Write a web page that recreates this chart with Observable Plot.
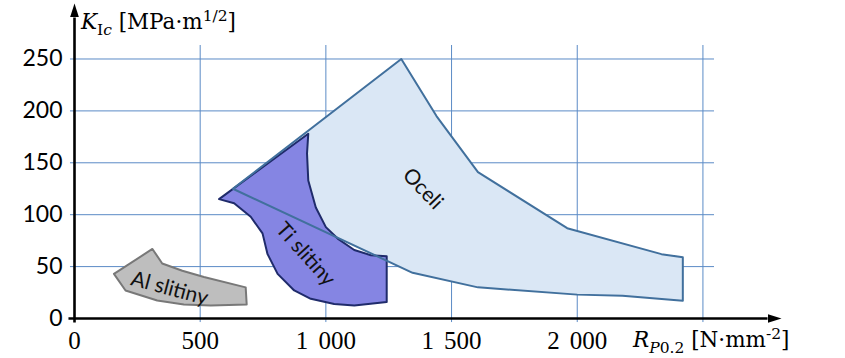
<!DOCTYPE html>
<html>
<head>
<meta charset="utf-8">
<script src="https://cdn.jsdelivr.net/npm/d3@7"></script>
<script src="https://cdn.jsdelivr.net/npm/@observablehq/plot@0.6"></script>
<style>
  html, body { margin: 0; padding: 0; background: #fff; }
  #chart { position: relative; width: 845px; height: 358px; }
</style>
</head>
<body>
<div id="chart"></div>
<script>
// Region outlines: strength R_p0.2 (x) vs fracture toughness K_Ic (y)
const oceliX = [630, 1300, 1440, 1605, 1960, 2335, 2420, 2420, 2180, 2000, 1605, 1345];
const oceliY = [125, 250, 195, 141, 87, 62, 59, 17, 22, 23, 30, 44];

const tiX = [575, 930, 925, 930, 960, 1000, 1047, 1113, 1179, 1242, 1242, 1113, 1033, 940, 874, 808, 768, 748, 701, 635];
const tiY = [115, 178, 159, 133, 107, 88, 77, 66, 61, 60, 16, 12.5, 14, 19, 27, 43, 62, 82, 98, 111];

const alX = [310, 349, 429, 515, 681, 685, 542, 435, 329, 203, 157];
const alY = [67, 53, 46, 40, 30, 13.5, 12.5, 13.5, 17.4, 27, 43];

const labelNames = ["Al slitiny", "Ti slitiny", "Oceli"];
const labelX = [378, 919, 1386];
const labelY = [29, 62, 125];
const labelAngle = [15, 48, 46];

const xTicks = [0, 500, 1000, 1500, 2000];
const xGrid = [500, 1000, 1500, 2000, 2500];
const yTicks = [0, 50, 100, 150, 200, 250];

const xDomain = [0, 2546];
const yDomain = [0, 263];

const toPts = (xs, ys) => xs.map((x, i) => ({x, y: ys[i]}));
const oceli = toPts(oceliX, oceliY);
const ti = toPts(tiX, tiY);
const al = toPts(alX, alY);
const labels = labelNames.map((t, i) => ({t, x: labelX[i], y: labelY[i], a: labelAngle[i]}));

const axisLines = [
  {x1: -24, y1: 0, x2: 2757, y2: 0},
  {x1: 0, y1: -3.9, x2: 0, y2: 290}
];

const gridColor = "#5b8bc6";
const fmt = d => d3.format(",")(d).replace(/,/g, "\u2009\u2009");

const svg = Plot.plot({
  width: 845,
  height: 358,
  marginLeft: 74,
  marginRight: 131,
  marginTop: 45,
  marginBottom: 40,
  style: {background: "transparent", color: "#000", overflow: "visible"},
  x: {domain: xDomain, axis: null},
  y: {domain: yDomain, axis: null},
  marks: [
    Plot.ruleY(yTicks.slice(1), {x1: -16, x2: 2546, stroke: gridColor, strokeWidth: 1}),
    Plot.ruleX(xGrid, {y1: -3.9, y2: 263, stroke: gridColor, strokeWidth: 1}),
    Plot.line(oceli, {x: "x", y: "y", curve: "linear-closed", fill: "#dae7f5", stroke: "none"}),
    Plot.line(ti, {x: "x", y: "y", curve: "linear-closed", fill: "#8585e3", fillOpacity: 1, stroke: "#1f2b6b", strokeWidth: 2}),
    Plot.line(oceli, {x: "x", y: "y", curve: "linear-closed", fill: "none", stroke: "#41709d", strokeWidth: 2}),
    Plot.line(al, {x: "x", y: "y", curve: "linear-closed", fill: "#bebebe", stroke: "#787878", strokeWidth: 2}),
    Plot.text(labels, {x: "x", y: "y", text: "t", rotate: "a", fontSize: 21, fontFamily: "Lato", fill: "#111"}),
    Plot.link(axisLines, {x1: "x1", y1: "y1", x2: "x2", y2: "y2", stroke: "#000", strokeWidth: 2.6}),
    Plot.axisY(yTicks, {tickSize: 0, tickPadding: 12, fontSize: 23, fontFamily: "Lato", anchor: "left"}),
    Plot.axisX(xTicks, {tickSize: 0, tickPadding: 13, fontSize: 25, fontFamily: "Liberation Serif", tickFormat: fmt, anchor: "bottom"})
  ]
});

document.getElementById("chart").appendChild(svg);

const s = d3.select(svg);
s.append("defs").html(
  '<marker id="ahead" viewBox="0 -4.5 14 9" refX="0" refY="0" markerWidth="14" markerHeight="9" markerUnits="userSpaceOnUse" orient="auto">' +
  '<path d="M0,-4.5L14,0L0,4.5Z" fill="#000"/></marker>'
);
s.selectAll('g[aria-label="link"] path, g[aria-label="link"] line').attr("marker-end", "url(#ahead)");

// Axis titles with italic symbols and sub/superscripts
const yl = s.append("text")
  .attr("x", 81).attr("y", 29).attr("text-anchor", "start")
  .attr("font-family", "DejaVu Serif").attr("font-size", 21.5).attr("fill", "#000");
yl.append("tspan").attr("font-style", "italic").text("K");
yl.append("tspan").attr("font-size", 15.5).attr("dy", 6).text("I");
yl.append("tspan").attr("font-size", 15.5).attr("font-style", "italic").text("c");
yl.append("tspan").attr("dy", -6).text(" [MPa\u00b7m");
yl.append("tspan").attr("font-size", 15.5).attr("dy", -8).text("1/2");
yl.append("tspan").attr("dy", 8).text("]");

const xl = s.append("text")
  .attr("x", 633).attr("y", 347).attr("text-anchor", "start")
  .attr("font-family", "DejaVu Serif").attr("font-size", 21.5).attr("fill", "#000");
xl.append("tspan").attr("font-style", "italic").text("R");
xl.append("tspan").attr("font-size", 15.5).attr("dy", 6).attr("font-style", "italic").text("P");
xl.append("tspan").attr("font-size", 15.5).text("0.2");
xl.append("tspan").attr("dy", -6).text(" [N\u00b7mm");
xl.append("tspan").attr("font-size", 15.5).attr("dy", -8).text("-2");
xl.append("tspan").attr("dy", 8).text("]");
</script>
</body>
</html>
